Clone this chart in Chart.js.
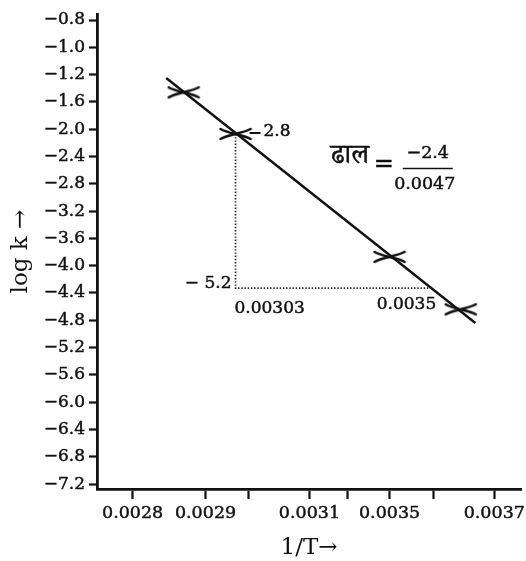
<!DOCTYPE html>
<html>
<head>
<meta charset="utf-8">
<script src="https://cdn.jsdelivr.net/npm/chart.js@4.4.1/dist/chart.umd.min.js"></script>
<style>
  html, body { margin: 0; padding: 0; background: #ffffff; }
  #wrap { width: 526px; height: 561px; }
</style>
</head>
<body>
<div id="wrap"><canvas id="c" width="526" height="561"></canvas></div>
<script>
// Arrhenius plot: log k against 1/T

// y-axis tick values (evenly spaced on the axis, uneven in value)
const yTickValues = [-0.8, -1.0, -1.2, -1.6, -2.0, -2.4, -2.8, -3.2, -3.6, -4.0,
                     -4.4, -4.8, -5.2, -5.6, -6.0, -6.4, -6.8, -7.2];
// x-axis ticks: value and printed label (blank ticks carry no label)
const xTickValues = [0.0028, 0.0029, 0.0030, 0.0031, 0.0033, 0.0035, 0.0036, 0.0037];
const xTickLabels = ['0.0028', '0.0029', '', '0.0031', '', '0.0035', '', '0.0037'];

// measured points
const invT = [0.00287, 0.00297, 0.00350, 0.003645];
const logK = [-1.46, -2.07, -3.87, -4.64];

// straight line through the points
const fitInvT = [0.002846, 0.003669];
const fitLogK = [-1.25, -4.84];

// slope triangle (vertical drop, then across to the line)
const triInvT = [0.00297, 0.00297, 0.0036];
const triLogK = [-2.07, -4.33, -4.33];

// annotation texts
const pointNote = '2.8';
const riseNote = '\u2212 5.2';
const runStartNote = '0.00303';
const runEndNote = '0.0035';
const slopeWord = 'ढाल';
const slopeNum = '\u22122.4';
const slopeDen = '0.0047';

// where each x tick sits along the axis (the axis is drawn unevenly)
const xTickStops = [0.084, 0.256, 0.357, 0.501, 0.590, 0.690, 0.793, 0.937];

// piecewise-linear lookup between tick values and axis positions
function interp(v, xs, ys) {
  const n = xs.length;
  const asc = xs[n - 1] > xs[0];
  let i = 0;
  for (; i < n - 2; i++) {
    if (asc ? v <= xs[i + 1] : v >= xs[i + 1]) break;
  }
  const t = (v - xs[i]) / (xs[i + 1] - xs[i]);
  return ys[i] + t * (ys[i + 1] - ys[i]);
}
const yIndexPos = yTickValues.map((_, i) => -i);
const xPos = v => interp(v, xTickValues, xTickStops);
const yPos = v => interp(v, yTickValues, yIndexPos);

const toXY = (xsArr, ysArr) => xsArr.map((v, i) => ({ x: xPos(v), y: yPos(ysArr[i]) }));

// flattened cross marker, forked at both ends
function makeMarker() {
  const c = document.createElement('canvas');
  c.width = 34; c.height = 16;
  const g = c.getContext('2d');
  g.strokeStyle = '#101010';
  g.lineWidth = 2.6;
  g.lineCap = 'round';
  g.beginPath();
  g.moveTo(2, 3);
  g.bezierCurveTo(9, 7.5, 25, 8.8, 32, 13);
  g.moveTo(2, 13);
  g.bezierCurveTo(9, 8.5, 25, 7.2, 32, 3);
  g.stroke();
  return c;
}

const SERIF = '"DejaVu Serif", "Liberation Serif", serif';
const INK = '#111111';

function inkText(ctx, text, x, y) {
  ctx.fillText(text, x, y);
  ctx.strokeText(text, x, y);
}

const notesPlugin = {
  id: 'notes',
  afterDatasetsDraw(chart) {
    const ctx = chart.ctx;
    const xs = chart.scales.x, ys = chart.scales.y;
    const px = v => xs.getPixelForValue(xPos(v));
    const py = v => ys.getPixelForValue(yPos(v));
    ctx.save();
    ctx.fillStyle = INK;
    ctx.strokeStyle = INK;

    // label beside the second point
    const p2x = px(invT[1]), p2y = py(logK[1]);
    ctx.lineWidth = 2;
    ctx.beginPath();
    ctx.moveTo(p2x + 14, p2y - 1);
    ctx.lineTo(p2x + 25, p2y - 1);
    ctx.stroke();
    ctx.lineWidth = 0.45;
    ctx.font = '17px ' + SERIF;
    ctx.textBaseline = 'middle';
    ctx.textAlign = 'left';
    inkText(ctx, pointNote, p2x + 28, p2y - 2);

    // triangle corner labels
    const cx = px(triInvT[1]), cy = py(triLogK[1]);
    ctx.textAlign = 'right';
    inkText(ctx, riseNote, cx - 4, cy - 5);
    ctx.textAlign = 'left';
    inkText(ctx, runStartNote, cx - 1, cy + 20);
    const ex = px(triInvT[2]), ey = py(triLogK[2]);
    ctx.textAlign = 'right';
    inkText(ctx, runEndNote, ex + 3, ey + 16);

    // slope statement near the middle of the line
    const mx = (px(fitInvT[0]) + px(fitInvT[1])) / 2;
    const my = (py(fitLogK[0]) + py(fitLogK[1])) / 2;
    ctx.textAlign = 'center';
    ctx.font = '27px "Noto Serif Devanagari", "Noto Sans Devanagari", "Lohit Devanagari", "FreeSerif", serif';
    inkText(ctx, slopeWord, mx + 29, my - 40);
    ctx.font = '24px ' + SERIF;
    inkText(ctx, '=', mx + 63, my - 36);
    ctx.font = '17.5px ' + SERIF;
    inkText(ctx, slopeNum, mx + 107, my - 47);
    inkText(ctx, slopeDen, mx + 104, my - 16);
    ctx.lineWidth = 1.5;
    ctx.beginPath();
    ctx.moveTo(mx + 82, my - 32);
    ctx.lineTo(mx + 132, my - 32);
    ctx.stroke();
    ctx.restore();
  }
};

const bgPlugin = {
  id: 'bg',
  beforeDraw(chart) {
    const ctx = chart.ctx;
    ctx.save();
    ctx.fillStyle = '#ffffff';
    ctx.fillRect(0, 0, chart.width, chart.height);
    ctx.restore();
  }
};

new Chart(document.getElementById('c'), {
  type: 'scatter',
  data: {
    datasets: [
      {
        label: 'fit',
        data: toXY(fitInvT, fitLogK),
        showLine: true,
        borderColor: '#111111',
        borderWidth: 2.4,
        pointRadius: 0,
        order: 3
      },
      {
        label: 'log k',
        data: toXY(invT, logK),
        showLine: false,
        pointStyle: makeMarker(),
        order: 1
      },
      {
        label: 'slope',
        data: toXY(triInvT, triLogK),
        showLine: true,
        borderColor: '#222222',
        borderWidth: 1.7,
        borderDash: [1.4, 1.8],
        pointRadius: 0,
        order: 2
      }
    ]
  },
  options: {
    responsive: false,
    devicePixelRatio: 1,
    animation: false,
    layout: { padding: { top: 14, right: 0, bottom: 0, left: 0 } },
    plugins: { legend: { display: false }, tooltip: { enabled: false } },
    scales: {
      x: {
        type: 'linear',
        min: 0,
        max: 1,
        afterBuildTicks(scale) { scale.ticks = xTickStops.map(s => ({ value: s })); },
        afterFit(scale) { scale.height = 72; scale.paddingLeft = 0; scale.paddingRight = 0; },
        border: { display: true, color: INK, width: 2.8 },
        grid: { display: true, drawOnChartArea: false, drawTicks: true, tickLength: 10, tickWidth: 2.2, tickColor: INK },
        ticks: {
          autoSkip: false,
          maxRotation: 0,
          padding: 4,
          color: INK,
          textStrokeColor: INK,
          textStrokeWidth: 0.45,
          font: { family: SERIF, size: 17.5 },
          callback: (v, i) => xTickLabels[i]
        },
        title: {
          display: true,
          text: '1/T\u2192',
          color: INK,
          font: { family: SERIF, size: 23, lineHeight: 1 },
          padding: { top: 0, bottom: 1 }
        }
      },
      y: {
        type: 'linear',
        min: -17.18,
        max: 0.22,
        afterBuildTicks(scale) { scale.ticks = yIndexPos.map(p => ({ value: p })); },
        afterFit(scale) { scale.width = 97; scale.paddingTop = 0; scale.paddingBottom = 0; },
        border: { display: true, color: INK, width: 2.8 },
        grid: { display: true, drawOnChartArea: false, drawTicks: true, tickLength: 8, tickWidth: 2.2, tickColor: INK },
        ticks: {
          autoSkip: false,
          padding: 4,
          color: INK,
          textStrokeColor: INK,
          textStrokeWidth: 0.45,
          font: { family: SERIF, size: 17 },
          callback: (v, i) => '\u2212' + Math.abs(yTickValues[i]).toFixed(1)
        },
        title: {
          display: true,
          text: 'log k \u2192',
          color: INK,
          font: { family: SERIF, size: 23, lineHeight: 1 },
          padding: { top: 10, bottom: 0 }
        }
      }
    }
  },
  plugins: [bgPlugin, notesPlugin]
});
</script>
</body>
</html>
